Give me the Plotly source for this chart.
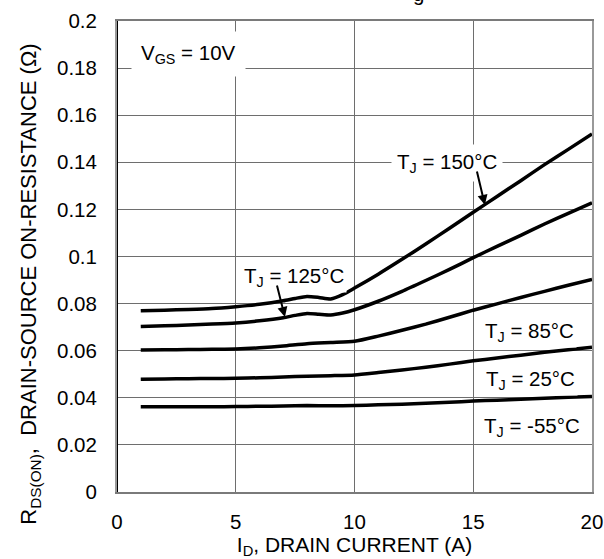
import plotly.graph_objects as go

# ---- data ----
id_150 = [1, 2, 3, 4, 5, 6, 7, 7.5, 8, 8.5, 9, 9.5, 10, 11, 12, 13, 14, 15, 16, 17, 18, 19, 20]
r_150 = [0.0770, 0.0772, 0.0775, 0.0779, 0.0787, 0.0797, 0.0812, 0.0822, 0.0830, 0.0826, 0.0820,
         0.0838, 0.0866, 0.0925, 0.0988, 0.1053, 0.1120, 0.1188, 0.1255, 0.1322, 0.1390, 0.1455, 0.1520]

id_125 = [1, 2, 3, 4, 5, 6, 7, 7.5, 8, 8.5, 9, 9.5, 10, 11, 12, 13, 14, 15, 16, 17, 18, 19, 20]
r_125 = [0.0703, 0.0706, 0.0709, 0.0713, 0.0718, 0.0727, 0.0740, 0.0750, 0.0758, 0.0755, 0.0752,
         0.0760, 0.0774, 0.0810, 0.0852, 0.0898, 0.0945, 0.0995, 0.1043, 0.1090, 0.1138, 0.1183, 0.1228]

id_85 = [1, 2, 3, 4, 5, 6, 7, 8, 9, 10, 11, 12, 13, 14, 15, 16, 17, 18, 19, 20]
r_85 = [0.0603, 0.0604, 0.0605, 0.0606, 0.0607, 0.0612, 0.0620, 0.0630, 0.0635, 0.0640,
        0.0662, 0.0687, 0.0713, 0.0742, 0.0772, 0.0799, 0.0826, 0.0852, 0.0878, 0.0903]

id_25 = [1, 2, 3, 4, 5, 6, 7, 8, 9, 10, 11, 12, 13, 14, 15, 16, 17, 18, 19, 20]
r_25 = [0.0479, 0.0480, 0.0481, 0.0482, 0.0483, 0.0485, 0.0488, 0.0492, 0.0494, 0.0497,
        0.0507, 0.0518, 0.0530, 0.0543, 0.0557, 0.0569, 0.0581, 0.0593, 0.0604, 0.0615]

id_m55 = [1, 2, 3, 4, 5, 6, 7, 8, 9, 10, 11, 12, 13, 14, 15, 16, 17, 18, 19, 20]
r_m55 = [0.0362, 0.0362, 0.0362, 0.0362, 0.0363, 0.0364, 0.0365, 0.0367, 0.0366, 0.0367,
         0.0370, 0.0373, 0.0377, 0.0381, 0.0386, 0.0390, 0.0394, 0.0398, 0.0402, 0.0406]

x_ticks = [0, 5, 10, 15, 20]
y_ticks = [0, 0.02, 0.04, 0.06, 0.08, 0.1, 0.12, 0.14, 0.16, 0.18, 0.2]

FONT = "Liberation Sans, Arial, sans-serif"
FS = 20.5
FT = 21

fig = go.Figure()
for xs, ys in [(id_150, r_150), (id_125, r_125), (id_85, r_85), (id_25, r_25), (id_m55, r_m55)]:
    fig.add_trace(go.Scatter(x=xs, y=ys, mode="lines",
                             line=dict(color="black", width=3.5, shape="spline", smoothing=0.6),
                             showlegend=False, hoverinfo="skip"))

def label(text, x, y, pad=3, bg="white"):
    fig.add_annotation(x=x, y=y, xref="x", yref="y", text=text, showarrow=False,
                       font=dict(family=FONT, size=FS, color="black"),
                       bgcolor=bg, borderpad=pad)

def arrow(x, y, ax, ay):
    fig.add_annotation(x=x, y=y, ax=ax, ay=ay, xref="x", yref="y", axref="x", ayref="y",
                       text="", showarrow=True, arrowhead=2, arrowsize=1, arrowwidth=2,
                       arrowcolor="black", standoff=0, startstandoff=0)

label("V<sub>GS</sub> = 10V", 2.99, 0.186, pad=9)
label("T<sub>J</sub> = 150°C", 13.9, 0.1397, pad=5)
label("T<sub>J</sub> = 125°C", 7.45, 0.0913, pad=2)
label("T<sub>J</sub> = 85°C", 17.35, 0.0679, pad=2)
label("T<sub>J</sub> = 25°C", 17.39, 0.0476, pad=2)
label("T<sub>J</sub> = -55°C", 17.47, 0.0276, pad=2)
arrow(15.49, 0.1219, 15.14, 0.1367)
arrow(7.07, 0.0743, 6.72, 0.0883)

# cut-off title descender at top of the page
fig.add_annotation(x=0.634, y=1, xref="paper", yref="paper", text="g", showarrow=False,
                   yanchor="bottom", yshift=14, font=dict(family=FONT, size=FS, color="black"))

# y axis title (placed slightly below centre, as in the reference)
fig.add_annotation(x=0, y=0.44, xref="paper", yref="paper", xanchor="center", yanchor="middle",
                   xshift=-87, textangle=-90, showarrow=False,
                   text="R<sub>DS(ON)</sub>,  DRAIN-SOURCE ON-RESISTANCE (Ω)",
                   font=dict(family=FONT, size=22, color="black"))

# black left spine
fig.add_shape(type="line", xref="x", yref="paper", x0=0, x1=0, y0=0, y1=1,
              line=dict(color="black", width=2))

fig.update_xaxes(range=[0, 20], tickvals=x_ticks, showgrid=True, gridcolor="#6e6e6e", gridwidth=1,
                 zeroline=False, showline=True, linecolor="#7a7a7a", linewidth=2, mirror=True,
                 ticks="", ticklabelstandoff=10, automargin=False,
                 tickfont=dict(family=FONT, size=FS, color="black"),
                 title=dict(text="I<sub>D</sub>, DRAIN CURRENT (A)", standoff=7,
                            font=dict(family=FONT, size=FT, color="black")))
fig.update_yaxes(range=[0, 0.2], tickvals=y_ticks, showgrid=True, gridcolor="#6e6e6e", gridwidth=1,
                 zeroline=False, showline=True, linecolor="#999999", linewidth=2, mirror=True,
                 ticks="", ticklabelstandoff=14, automargin=False,
                 tickfont=dict(family=FONT, size=FS, color="black"))

fig.update_layout(width=604, height=559, margin=dict(l=117, r=12, t=21, b=67),
                  plot_bgcolor="white", paper_bgcolor="white",
                  font=dict(family=FONT, size=FS, color="black"))

fig.write_html("out.html", config={"displayModeBar": False},
               post_script="document.body.style.margin='0';"
                           "document.documentElement.style.overflow='hidden';")
